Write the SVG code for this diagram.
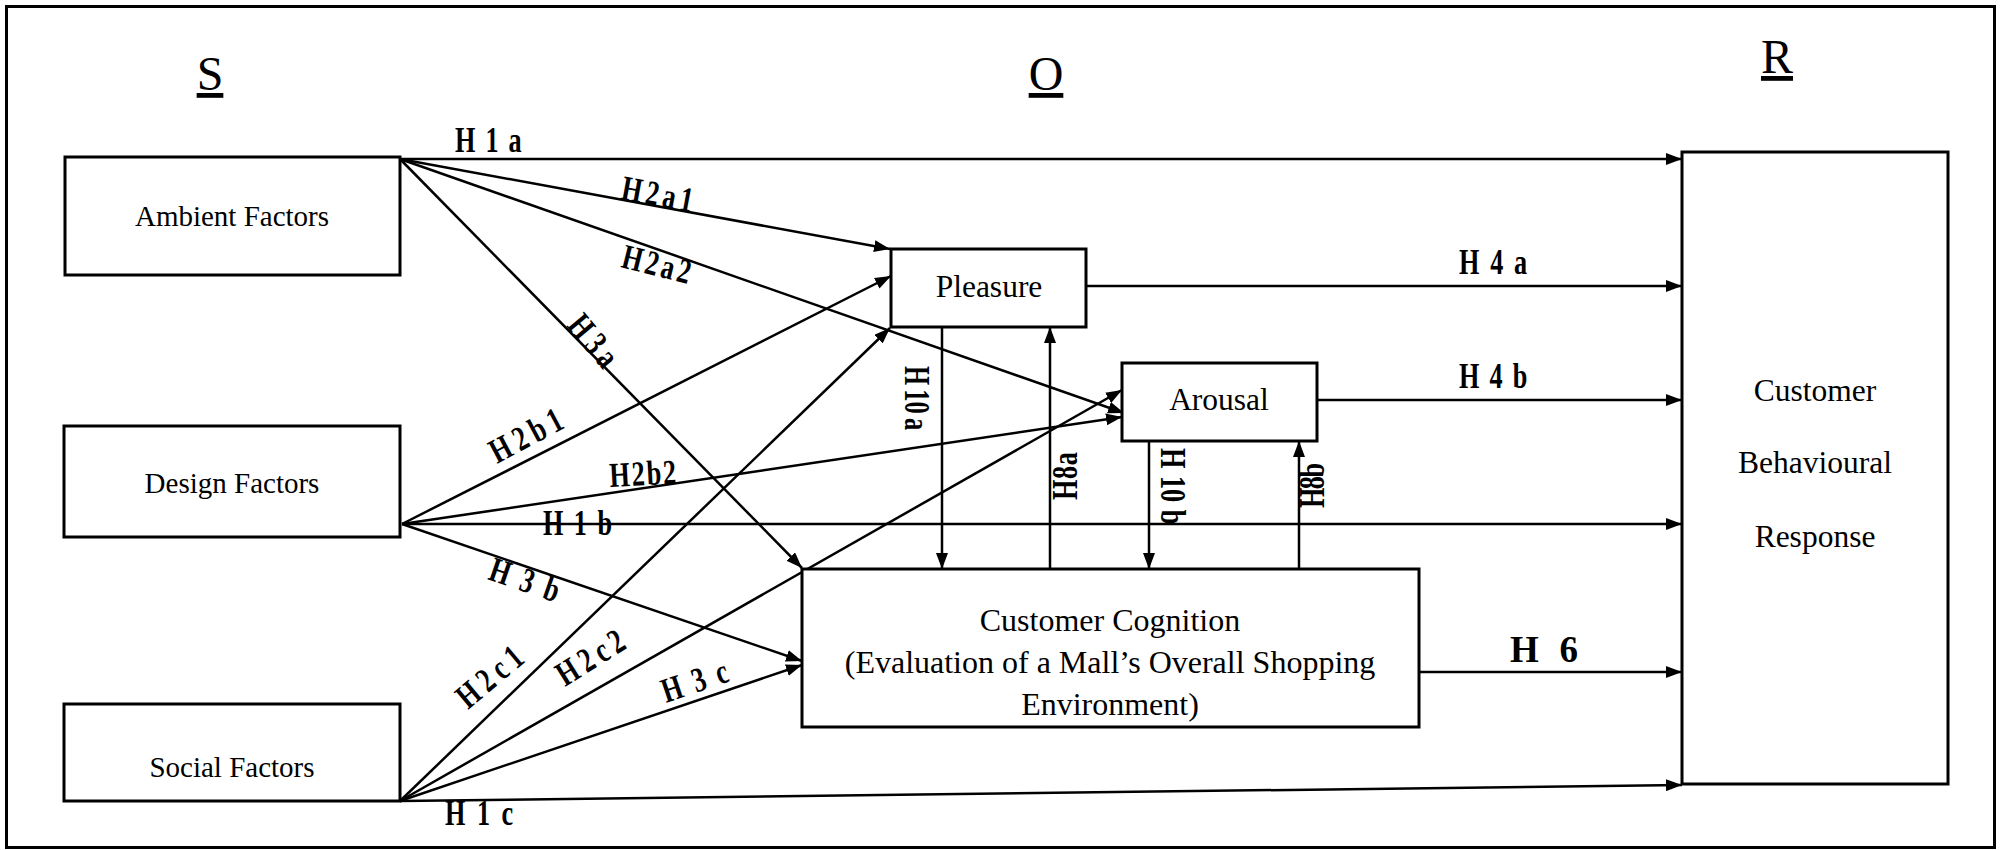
<svg xmlns="http://www.w3.org/2000/svg" width="2001" height="850" viewBox="0 0 2001 850">
  <style>
    .frame { fill: none; stroke: #000; stroke-width: 3; }
    .box { fill: #fff; stroke: #000; stroke-width: 3; }
    .edge { fill: none; stroke: #000; stroke-width: 2.5; marker-end: url(#arrow); }
    .node-text { font-family: "Liberation Serif", "Times New Roman", serif; fill: #000; text-anchor: middle; }
    .side { font-size: 29px; }
    .mid { font-size: 31.5px; }
    .cog { font-size: 32px; }
    .title { font-family: "Liberation Serif", "Times New Roman", serif; font-size: 48px; text-anchor: middle; text-decoration: underline; fill: #000; }
    .h { font-family: "Liberation Serif", "Times New Roman", serif; font-weight: bold; font-size: 35px; fill: #000; }
    .hw { font-family: "Liberation Serif", "Times New Roman", serif; font-weight: bold; font-size: 37px; fill: #000; }
  </style>
  <defs>
    <marker id="arrow" markerUnits="userSpaceOnUse" markerWidth="16" markerHeight="12" refX="16" refY="6" orient="auto">
      <path d="M0,0 L16,6 L0,12 Z" fill="#000"/>
    </marker>
  </defs>

  <rect width="2001" height="850" fill="#fff"/>
  <rect class="frame" x="6.5" y="6.5" width="1988" height="841"/>

  <!-- column headings -->
  <g id="headings">
    <text class="title" x="210" y="90">S</text>
    <text class="title" x="1046" y="90">O</text>
    <text class="title" x="1777" y="73">R</text>
  </g>

  <!-- connectors -->
  <g id="connectors">
    <path class="edge" d="M400,159 L1682,159"/>
    <path class="edge" d="M400,159 L890,249"/>
    <path class="edge" d="M400,159 L1124,413"/>
    <path class="edge" d="M400,159 L802,568"/>
    <path class="edge" d="M402,524 L891,276"/>
    <path class="edge" d="M402,524 L1122,417"/>
    <path class="edge" d="M402,524 L1682,524"/>
    <path class="edge" d="M402,524 L802,661"/>
    <path class="edge" d="M400,801 L890,328"/>
    <path class="edge" d="M400,801 L1122,390"/>
    <path class="edge" d="M400,801 L802,665"/>
    <path class="edge" d="M400,801 L1682,785"/>
    <path class="edge" d="M1086,286 L1682,286"/>
    <path class="edge" d="M1317,400 L1682,400"/>
    <path class="edge" d="M1419,672 L1682,672"/>
    <path class="edge" d="M942,327 L942,569"/>
    <path class="edge" d="M1050,569 L1050,327"/>
    <path class="edge" d="M1149,441 L1149,569"/>
    <path class="edge" d="M1299,569 L1299,441"/>
  </g>

  <!-- hypothesis labels -->
  <g id="labels">
    <text class="h" transform="translate(455,152) scale(0.75,1)" textLength="89" lengthAdjust="spacing">H1a</text>
    <text class="h" transform="translate(620,199) rotate(10.4) scale(0.75,1)" textLength="96" lengthAdjust="spacing">H2a1</text>
    <text class="h" transform="translate(620,267) rotate(14) scale(0.75,1)" textLength="93" lengthAdjust="spacing">H2a2</text>
    <text class="h" transform="translate(566,326) rotate(50) scale(0.75,1)" textLength="77" lengthAdjust="spacing">H3a</text>
    <text class="h" transform="translate(497,464) rotate(-28) scale(0.75,1)" textLength="104" lengthAdjust="spacing">H2b1</text>
    <text class="h" transform="translate(610,487) rotate(-3) scale(0.75,1)" textLength="89" lengthAdjust="spacing">H2b2</text>
    <text class="h" transform="translate(543,535) scale(0.75,1)" textLength="92" lengthAdjust="spacing">H1b</text>
    <text class="h" transform="translate(487,579) rotate(19) scale(0.75,1)" textLength="96" lengthAdjust="spacing">H3b</text>
    <text class="h" transform="translate(468,710) rotate(-40) scale(0.75,1)" textLength="101" lengthAdjust="spacing">H2c1</text>
    <text class="h" transform="translate(565,687) rotate(-32) scale(0.75,1)" textLength="99" lengthAdjust="spacing">H2c2</text>
    <text class="h" transform="translate(666,703) rotate(-18.7) scale(0.75,1)" textLength="91" lengthAdjust="spacing">H3c</text>
    <text class="h" transform="translate(445,825) scale(0.75,1)" textLength="91" lengthAdjust="spacing">H1c</text>
    <text class="h" transform="translate(1459,274) scale(0.75,1)" textLength="91" lengthAdjust="spacing">H4a</text>
    <text class="h" transform="translate(1459,388) scale(0.75,1)" textLength="91" lengthAdjust="spacing">H4b</text>
    <text class="hw" x="1510" y="662" textLength="68" lengthAdjust="spacing">H6</text>
    <text class="h" transform="translate(905,366) rotate(90) scale(0.7,1)">H<tspan dx="6">10</tspan><tspan dx="6">a</tspan></text>
    <text class="h" transform="translate(1077,500) rotate(-90) scale(0.75,1)" textLength="64" lengthAdjust="spacing">H8a</text>
    <text class="h" transform="translate(1161,448) rotate(90) scale(0.75,1)">H<tspan dx="10">10</tspan><tspan dx="10">b</tspan></text>
    <text class="h" transform="translate(1324,508) rotate(-90) scale(0.75,1)" textLength="60" lengthAdjust="spacing">H8b</text>
  </g>

  <!-- stimulus nodes -->
  <g id="ambient">
    <rect class="box" x="65" y="157" width="335" height="118"/>
    <text class="node-text side" x="232" y="226">Ambient Factors</text>
  </g>
  <g id="design">
    <rect class="box" x="64" y="426" width="336" height="111"/>
    <text class="node-text side" x="232" y="493">Design Factors</text>
  </g>
  <g id="social">
    <rect class="box" x="64" y="704" width="336" height="97"/>
    <text class="node-text side" x="232" y="777">Social Factors</text>
  </g>

  <!-- organism nodes -->
  <g id="pleasure">
    <rect class="box" x="891" y="249" width="195" height="78"/>
    <text class="node-text mid" x="989" y="297">Pleasure</text>
  </g>
  <g id="arousal">
    <rect class="box" x="1122" y="363" width="195" height="78"/>
    <text class="node-text mid" x="1219" y="410">Arousal</text>
  </g>
  <g id="cognition">
    <rect class="box" x="802" y="569" width="617" height="158"/>
    <text class="node-text cog" x="1110" y="631">Customer Cognition</text>
    <text class="node-text cog" x="1110" y="673">(Evaluation of a Mall’s Overall Shopping</text>
    <text class="node-text cog" x="1110" y="715">Environment)</text>
  </g>

  <!-- response node -->
  <g id="response">
    <rect class="box" x="1682" y="152" width="266" height="632"/>
    <text class="node-text mid" x="1815" y="401">Customer</text>
    <text class="node-text mid" x="1815" y="473">Behavioural</text>
    <text class="node-text mid" x="1815" y="547">Response</text>
  </g>
</svg>
